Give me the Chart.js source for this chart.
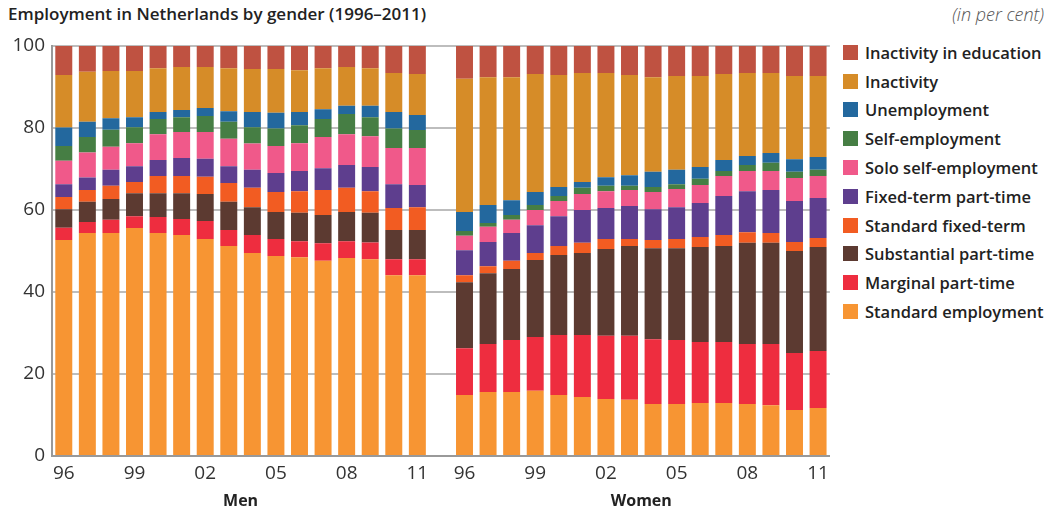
<!DOCTYPE html>
<html>
<head>
<meta charset="utf-8">
<script src="https://cdn.jsdelivr.net/npm/chart.js@4"></script>
<style>
  body { margin: 0; background: #fff; font-family: "Open Sans", sans-serif; }
  #wrap { position: relative; width: 1052px; height: 513px; overflow: hidden; }
  #chart { position: absolute; left: 0; top: 0; }
  #title { position: absolute; left: 8px; top: 2px; font-size: 17px; font-weight: 600; color: #222; }
  #unit { position: absolute; right: 8px; top: 2px; font-size: 18px; font-style: italic; font-weight: 300; color: #555; }
  #legend { position: absolute; left: 843px; top: 38px; }
  .row { height: 28.8px; display: flex; align-items: center; font-size: 16.5px; font-weight: 600; color: #222; white-space: nowrap; }
  .sw { width: 15px; height: 15px; margin-right: 7px; flex: none; }
</style>
</head>
<body>
<div id="wrap">
  <div id="title">Employment in Netherlands by gender (1996–2011)</div>
  <div id="unit">(in per cent)</div>
  <canvas id="chart" width="835" height="513"></canvas>
  <div id="legend"></div>
</div>
<script>
// years 1996-2011, two-digit tick labels
let years=['96','97','98','99','00','01','02','03','04','05','06','07','08','09','10','11']
let shownYears=['96','99','02','05','08','11']
let groups=['Men','Women']

// series, bottom to top (per cent)
let series_names=['Standard employment','Marginal part-time','Substantial part-time','Standard fixed-term',
  'Fixed-term part-time','Solo self-employment','Self-employment','Unemployment','Inactivity','Inactivity in education']
let series_colors=['#f79533','#ee2d3f','#5c3a31','#f25c22','#5e3e8e','#f0598a','#467e44','#23689e','#d68c28','#bf5241']

let men_std=[52.7,54.4,54.4,55.6,54.4,53.9,52.9,51.2,49.5,48.8,48.5,47.6,48.3,48.0,44.1,44.1]
let men_marg=[3.0,2.7,3.2,2.9,3.9,3.9,4.4,3.9,4.4,4.1,3.9,4.3,4.1,4.1,3.9,3.9]
let men_sub=[4.5,4.9,5.1,5.6,5.8,6.3,6.6,6.9,6.8,6.6,6.9,6.9,7.1,7.2,7.1,7.1]
let men_sft=[3.0,2.9,3.2,2.7,4.2,4.2,4.2,4.6,4.7,4.9,5.3,6.1,5.9,5.3,5.4,5.6]
let men_fpt=[3.1,3.0,3.9,3.9,3.9,4.4,4.4,4.1,4.4,4.6,4.9,5.3,5.6,5.9,5.8,5.4]
let men_solo=[5.7,6.1,5.6,5.6,6.3,6.3,6.5,6.7,6.4,6.6,6.8,7.6,7.5,7.5,8.8,9.0]
let men_self=[3.6,3.8,4.2,3.9,3.7,3.6,3.9,4.1,4.0,4.3,4.4,4.4,4.9,4.6,4.8,4.4]
let men_unemp=[4.5,3.7,2.8,2.4,1.7,1.8,2.0,2.6,3.7,3.8,3.2,2.4,2.0,2.8,4.0,3.7]
let men_inact=[12.8,12.2,11.5,11.3,10.7,10.5,10.0,10.5,10.5,10.7,10.2,10.0,9.5,9.2,9.5,10.0]
let men_edu=[7.1,6.3,6.1,6.1,5.4,5.1,5.1,5.4,5.6,5.6,5.9,5.4,5.1,5.4,6.6,6.8]

let women_std=[14.9,15.6,15.6,15.9,14.9,14.4,13.9,13.7,12.7,12.7,12.9,12.9,12.7,12.4,11.2,11.7]
let women_marg=[11.4,11.7,12.7,13.1,14.6,15.1,15.4,15.6,15.8,15.6,14.9,14.9,14.6,14.9,13.9,13.9]
let women_sub=[16.1,17.3,17.3,18.8,19.5,20.0,21.2,21.9,22.2,22.4,23.2,23.4,24.7,24.7,24.9,25.4]
let women_sft=[1.7,1.7,2.0,1.7,2.2,2.5,2.4,1.7,2.0,2.2,2.4,2.7,2.6,2.4,2.2,2.2]
let women_fpt=[6.1,5.9,6.8,6.8,7.3,8.0,7.6,8.1,7.5,7.8,8.3,9.5,10.0,10.5,10.0,9.7]
let women_solo=[3.5,3.7,3.2,3.7,3.7,3.9,4.1,3.9,4.2,4.4,4.4,4.9,4.9,4.6,5.6,5.4]
let women_self=[1.2,0.9,1.2,1.2,1.2,1.5,1.3,1.0,1.2,1.2,1.5,1.2,1.5,2.0,1.5,1.5]
let women_unemp=[4.6,4.4,3.6,3.2,2.2,1.4,2.1,2.6,3.7,3.5,2.9,2.7,2.2,2.4,3.1,3.1]
let women_inact=[32.5,31.2,30.0,28.8,27.3,26.6,25.4,24.4,23.1,22.9,22.2,21.0,20.2,19.5,20.3,19.8]
let women_edu=[8.0,7.6,7.6,6.8,7.1,6.6,6.6,7.1,7.6,7.3,7.3,6.8,6.6,6.6,7.3,7.3]

let men_all=[men_std,men_marg,men_sub,men_sft,men_fpt,men_solo,men_self,men_unemp,men_inact,men_edu]
let women_all=[women_std,women_marg,women_sub,women_sft,women_fpt,women_solo,women_self,women_unemp,women_inact,women_edu]

// one empty slot between men and women
let labels=years.map(y=>'m'+y).concat(['gap'],years.map(y=>'w'+y))

let datasets=series_names.map(function(name,i){
    return {
        label: name,
        data: men_all[i].concat([null],women_all[i]),
        backgroundColor: series_colors[i],
        borderWidth: 0,
        barPercentage: 0.72,
        categoryPercentage: 1.0
    }
})

// group captions under the axis
const groupLabels={
    id:'groupLabels',
    afterDraw(chart){
        const x=chart.scales.x, c=chart.ctx
        c.save()
        c.font='bold 16px "Open Sans", sans-serif'
        c.fillStyle='#222'
        c.textAlign='center'
        c.textBaseline='middle'
        let mid1=(x.getPixelForValue(0)+x.getPixelForValue(15))/2
        let mid2=(x.getPixelForValue(17)+x.getPixelForValue(32))/2
        c.fillText(groups[0],mid1,501)
        c.fillText(groups[1],mid2,501)
        c.restore()
    }
}

const ctx=document.getElementById('chart').getContext('2d')
new Chart(ctx,{
    type:'bar',
    data:{labels:labels,datasets:datasets},
    plugins:[groupLabels],
    options:{
        responsive:false,
        animation:false,
        layout:{padding:{top:46,right:4,left:0,bottom:0}},
        plugins:{legend:{display:false},tooltip:{enabled:false}},
        scales:{
            x:{
                stacked:true,
                grid:{display:false,drawTicks:false},
                border:{color:'#999',width:2},
                ticks:{
                    autoSkip:false,maxRotation:0,padding:6,color:'#333',
                    font:{size:19,family:'"Open Sans", sans-serif'},
                    callback:function(v){
                        let l=labels[v]
                        let y=l.slice(1)
                        return (l!=='gap' && shownYears.includes(y)) ? y : ''
                    }
                },
                afterFit:function(s){ s.height=57 }
            },
            y:{
                stacked:true,min:0,max:100,
                grid:{color:'#bdbdbd',lineWidth:2,drawTicks:false},
                border:{color:'#999',width:2},
                ticks:{stepSize:20,padding:7,color:'#333',font:{size:19,family:'"Open Sans", sans-serif'}},
                afterFit:function(s){ s.width=52 }
            }
        }
    }
})

// html legend, top to bottom = reverse stacking order
let lg=document.getElementById('legend')
for(let i=series_names.length-1;i>=0;i--){
    let r=document.createElement('div'); r.className='row'
    let sw=document.createElement('span'); sw.className='sw'; sw.style.background=series_colors[i]
    r.appendChild(sw); r.appendChild(document.createTextNode(series_names[i]))
    lg.appendChild(r)
}
</script>
</body>
</html>
